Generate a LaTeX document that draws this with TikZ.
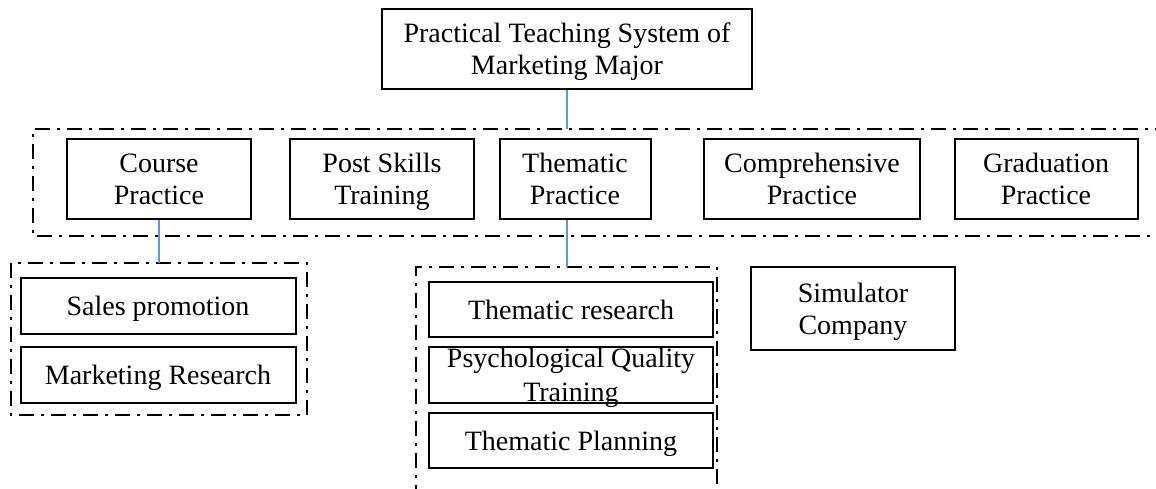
\documentclass[tikz,border=0pt]{standalone}
\usepackage{fontspec}
\setmainfont{Liberation Serif}
\definecolor{linkblue}{RGB}{91,155,213}
% one text line with a fixed height and depth
\newcommand{\tline}[1]{\rule[-3pt]{0pt}{25pt}\smash{#1}}
\begin{document}
\begin{tikzpicture}[x=1pt,y=-1pt,
  box/.style={draw=black,line width=2pt,rectangle,inner sep=0pt,align=center,
    font=\fontsize{28}{32}\selectfont},
  group/.style={draw=black,line width=2pt,dash pattern=on 15pt off 7pt on 3pt off 7pt},
  link/.style={draw=linkblue,line width=1.3pt}]
\useasboundingbox (0,0) rectangle (1156,488);

% root
\node[box,minimum width=370pt,minimum height=80pt] (root) at (567,49)
  {\tline{Practical Teaching System of}\\\tline{Marketing Major}};

% second level group frame (runs off the right edge)
\draw[group] (1170,129) -- (33,129) -- (33,236) -- (1170,236);
\coordinate (grouptop) at (567,129);

\node[box,minimum width=184pt,minimum height=80pt] (course) at (159,179) {\tline{Course}\\\tline{Practice}};
\node[box,minimum width=184pt,minimum height=80pt] (post) at (382,179) {\tline{Post Skills}\\\tline{Training}};
\node[box,minimum width=151pt,minimum height=80pt] (thematic) at (575,179) {\tline{Thematic}\\\tline{Practice}};
\node[box,minimum width=216pt,minimum height=80pt] (compr) at (812,179) {\tline{Comprehensive}\\\tline{Practice}};
\node[box,minimum width=183pt,minimum height=80pt] (grad) at (1046,179) {\tline{Graduation}\\\tline{Practice}};

% course practice group
\draw[group] (11,263) rectangle (307,415);
\coordinate (coursegrp) at (159,263);
\node[box,minimum width=275pt,minimum height=56pt] (sales) at (158,306) {\tline{Sales promotion}};
\node[box,minimum width=275pt,minimum height=56pt] (mres) at (158,375) {\tline{Marketing Research}};

% thematic practice group (runs off the bottom edge)
\draw[group] (416,500) -- (416,267) -- (717,267) -- (717,500);
\coordinate (themgrp) at (567,267);
\node[box,minimum width=284pt,minimum height=55pt] (tres) at (571,309.5) {\tline{Thematic research}};
\node[box,minimum width=284pt,minimum height=56pt] (psy) at (571,375) {};
\node[font=\fontsize{28}{34}\selectfont,align=center,inner sep=0pt] (psytext) at (psy.center)
  {\tline{Psychological Quality}\\\tline{Training}};
\node[box,minimum width=284pt,minimum height=55pt] (tplan) at (571,440.5) {\tline{Thematic Planning}};

% standalone box
\node[box,minimum width=204pt,minimum height=83pt] (sim) at (853,308.5) {\tline{Simulator}\\\tline{Company}};

% connectors
\draw[link] (root.south) -- (grouptop);
\draw[link] (course.south) -- (coursegrp);
\draw[link] (thematic.south -| themgrp) -- (themgrp);
\end{tikzpicture}
\end{document}
